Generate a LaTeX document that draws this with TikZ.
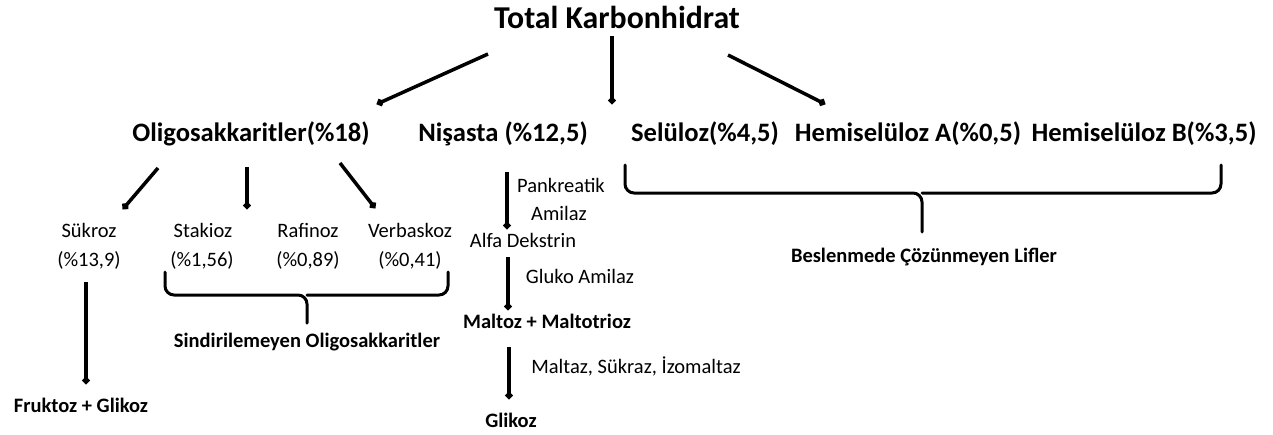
\documentclass[tikz,border=0pt]{standalone}
\usepackage{fontspec}
\setmainfont{Carlito}
\usetikzlibrary{arrows.meta}
\begin{document}
\begin{tikzpicture}[x=1pt,y=-1pt,
  arr/.style={line width=3.5pt,-{Circle[length=7pt,width=7pt]}},
  brace/.style={line width=3pt,line cap=round,line join=round,rounded corners=9pt},
  tzero/.style={font=\bfseries\fontsize{31.8}{31.8}\selectfont,inner sep=0pt,anchor=base},
  tone/.style={font=\bfseries\fontsize{26.6}{26.6}\selectfont,inner sep=0pt,anchor=base},
  ttwo/.style={font=\fontsize{20.5}{20.5}\selectfont,inner sep=0pt,anchor=base},
  ttwob/.style={font=\bfseries\fontsize{20.5}{20.5}\selectfont,inner sep=0pt,anchor=base}]
\useasboundingbox (0,0) rectangle (1273,434);
% level 0 and 1
\node[tzero] (title) at (617,28) {Total Karbonhidrat};
\node[tone] (oligo) at (251,141) {Oligosakkaritler(\%18)};
\node[tone] (nisasta) at (503,141) {Nişasta (\%12,5)};
\node[tone] (selu) at (705,141) {Selüloz(\%4,5)};
\node[tone] (hemA) at (908,141) {Hemiselüloz A(\%0,5)};
\node[tone] (hemB) at (1144,141) {Hemiselüloz B(\%3,5)};
% oligosaccharides
\node[ttwo] (sukroz) at (89,237) {Sükroz};
\node[ttwo] (sukrozp) at (89,266) {(\%13,9)};
\node[ttwo] (stakioz) at (203,237) {Stakioz};
\node[ttwo] (stakiozp) at (202,266) {(\%1,56)};
\node[ttwo] (rafinoz) at (308,237) {Rafinoz};
\node[ttwo] (rafinozp) at (308,266) {(\%0,89)};
\node[ttwo] (verbas) at (410,237) {Verbaskoz};
\node[ttwo] (verbasp) at (410,266) {(\%0,41)};
\node[ttwob] (sindir) at (307,347) {Sindirilemeyen Oligosakkaritler};
\node[ttwob] (fruktoz) at (81,412) {Fruktoz + Glikoz};
% starch chain
\node[ttwo,anchor=base west] (pank) at (517,192) {Pankreatik};
\node[ttwo] (amilaz) at (559,220) {Amilaz};
\node[ttwo] (alfa) at (523,247) {Alfa Dekstrin};
\node[ttwo] (gluko) at (580,283) {Gluko Amilaz};
\node[ttwob] (maltoz) at (547,328) {Maltoz + Maltotrioz};
\node[ttwo] (maltaz) at (636,373) {Maltaz, Sükraz, İzomaltaz};
\node[ttwob] (glikoz) at (511,427) {Glikoz};
% fibres
\node[ttwob] (beslen) at (924,262) {Beslenmede Çözünmeyen Lifler};
% arrow end points
\coordinate (tL) at (488,54);  \coordinate (oL) at (377,104);
\coordinate (tM) at (612,36);  \coordinate (nM) at (612,104);
\coordinate (tR) at (728,55);  \coordinate (sR) at (825,104);
\coordinate (o1) at (158,168); \coordinate (s1) at (123,209);
\coordinate (o2) at (247,167); \coordinate (s2) at (247,209);
\coordinate (o3) at (340,163); \coordinate (s3) at (375,208);
\coordinate (su1) at (86,282); \coordinate (su2) at (86,384);
\coordinate (n1) at (507,172); \coordinate (n2) at (507,229);
\coordinate (n3) at (508,257); \coordinate (n4) at (508,310);
\coordinate (n5) at (509,347); \coordinate (n6) at (509,399);
\draw[arr] (tL) -- (oL);
\draw[arr] (tM) -- (nM);
\draw[arr] (tR) -- (sR);
\draw[arr] (o1) -- (s1);
\draw[arr] (o2) -- (s2);
\draw[arr] (o3) -- (s3);
\draw[arr] (su1) -- (su2);
\draw[arr] (n1) -- (n2);
\draw[arr] (n3) -- (n4);
\draw[arr] (n5) -- (n6);
% braces
\draw[brace] (165,272) -- (165,295) -- (307,295) -- (307,323);
\draw[brace] (448,272) -- (448,295) -- (307,295);
\draw[brace] (625,165) -- (625,193) -- (922,193) -- (922,232);
\draw[brace] (1221,165) -- (1221,193) -- (922,193);
\end{tikzpicture}
\end{document}
